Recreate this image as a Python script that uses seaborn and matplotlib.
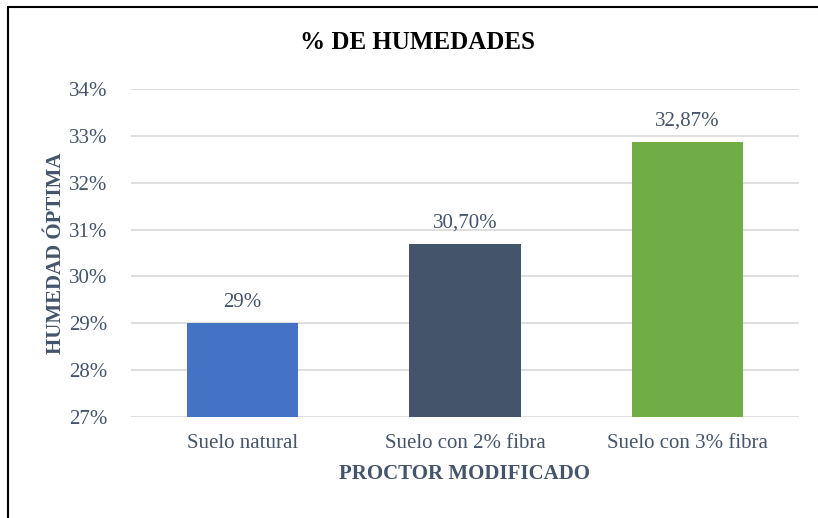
import matplotlib
matplotlib.use("Agg")
import matplotlib.pyplot as plt
import seaborn as sns
import pandas as pd
from matplotlib.lines import Line2D

categorias = ['Suelo natural', 'Suelo con 2% fibra', 'Suelo con 3% fibra']
humedad = [29.0, 30.70, 32.87]
etiquetas = ['29%', '30,70%', '32,87%']
colores = ['#4472C4', '#44546A', '#70AD47']
yticks = [27, 28, 29, 30, 31, 32, 33, 34]

df = pd.DataFrame({'cat': categorias, 'val': humedad})

sns.set_theme(style="white")
plt.rcParams['font.family'] = ['Liberation Serif', 'DejaVu Serif']

txt = '#44546A'
fig = plt.figure(figsize=(8.18, 5.18), dpi=100)
ax = fig.add_axes([131/818, 1-417/518, (799-131)/818, (417-89)/518])

sns.barplot(data=df, x='cat', y='val', hue='cat', palette=colores, legend=False,
            width=0.5, ax=ax, linewidth=0, saturation=1)

ax.set_ylim(27, 34)
ax.set_yticks(yticks)
ax.set_yticklabels([f'{t}%' for t in yticks], fontsize=15, color=txt)
ax.tick_params(axis='x', labelsize=15, labelcolor=txt, length=0, pad=12)
ax.tick_params(axis='y', length=0, pad=17)
ax.yaxis.grid(True, color='#D9D9D9', linewidth=1.2)
ax.set_axisbelow(True)
for s in ax.spines.values():
    s.set_visible(False)

for i, (v, lab) in enumerate(zip(humedad, etiquetas)):
    ax.annotate(lab, (i, v), xytext=(0, 8), textcoords='offset points',
                ha='center', va='bottom', fontsize=15, color=txt)

ax.set_xlabel('PROCTOR MODIFICADO', fontsize=15, fontweight='bold', color=txt, labelpad=8)
ax.set_ylabel('HUMEDAD ÓPTIMA', fontsize=15, fontweight='bold', color=txt)
ax.yaxis.set_label_coords((66-131)/668, 0.5)
fig.text(418/818, 1-42/518, '% DE HUMEDADES', fontsize=18, fontweight='bold',
         color='black', ha='center', va='center')

# marco exterior (izquierda y arriba)
y_top = 1 - 6.5/518
x_left = 7.5/818
fig.lines.append(Line2D([x_left, x_left], [0, y_top], transform=fig.transFigure,
                        color='black', linewidth=1.5))
fig.lines.append(Line2D([x_left, 1], [y_top, y_top], transform=fig.transFigure,
                        color='black', linewidth=1.5))

fig.savefig('out.png', dpi=100)
